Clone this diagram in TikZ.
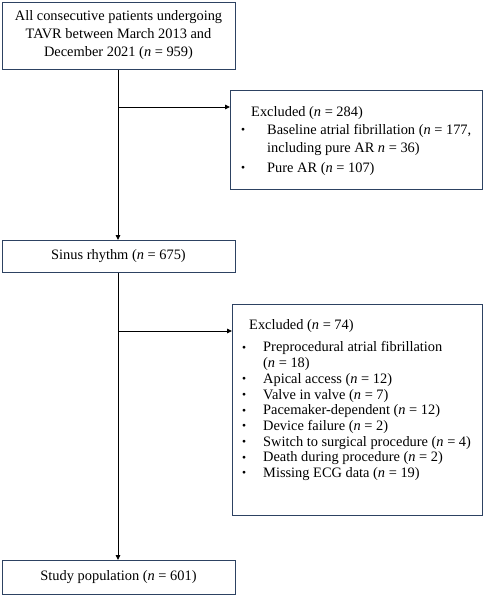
\documentclass[tikz,border=0pt]{standalone}
\usepackage{fontspec}
\setmainfont{Liberation Serif}
\usetikzlibrary{arrows.meta}
\definecolor{boxcol}{HTML}{2D4262}
\tikzset{
  box/.style={draw=boxcol, line width=1.1pt, inner sep=0pt, anchor=north west},
  boxtext/.style={inner sep=0pt, align=center, font=\fontsize{14.4}{18.3}\selectfont},
  listtext/.style={inner sep=0pt, align=left, anchor=north west},
  flow/.style={draw=black, line width=0.9pt},
  arr/.style={flow, -{Triangle[length=5pt,width=4.5pt]}}
}
\newcommand{\bul}[1]{\makebox[#1][l]{\raisebox{0.6pt}{\scalebox{0.8}{\textbullet}}}}
\begin{document}
\begin{tikzpicture}[x=1pt,y=-1pt]
\useasboundingbox (0,0) rectangle (484,596);
% boxes
\node[box, minimum width=233pt, minimum height=67pt] (a) at (2,2) {};
\node[boxtext] (at) at (118.5,35) {All consecutive patients undergoing\\TAVR between March 2013 and\\December 2021 (\emph{n} = 959)};
\node[box, minimum width=252pt, minimum height=99pt] (b) at (230,90) {};
\node[listtext, font=\fontsize{14.4}{18}\selectfont] (bt) at (241,105) {\rule{0pt}{11pt}\hspace*{10pt}Excluded (\emph{n} = 284)\\
\bul{26pt}Baseline atrial fibrillation (\emph{n} = 177,\\
\hspace*{26pt}including pure AR \emph{n} = 36)\\[2pt]
\bul{26pt}Pure AR (\emph{n} = 107)};
\node[box, minimum width=233pt, minimum height=32pt] (c) at (2,240) {};
\node[boxtext] (ct) at (118.5,256) {Sinus rhythm (\emph{n} = 675)};
\node[box, minimum width=250pt, minimum height=211pt] (d) at (232,304) {};
\node[listtext, font=\fontsize{14.4}{15.7}\selectfont] (dt) at (242,318) {\rule{0pt}{11pt}\hspace*{7pt}Excluded (\emph{n} = 74)\\[7pt]
\bul{21pt}Preprocedural atrial fibrillation\\
\hspace*{21pt}(\emph{n} = 18)\\
\bul{21pt}Apical access (\emph{n} = 12)\\
\bul{21pt}Valve in valve (\emph{n} = 7)\\
\bul{21pt}Pacemaker-dependent (\emph{n} = 12)\\
\bul{21pt}Device failure (\emph{n} = 2)\\
\bul{21pt}Switch to surgical procedure (\emph{n} = 4)\\
\bul{21pt}Death during procedure (\emph{n} = 2)\\
\bul{21pt}Missing ECG data (\emph{n} = 19)};
\node[box, minimum width=233pt, minimum height=34pt] (e) at (2,560) {};
\node[boxtext] (et) at (118.5,577) {Study population (\emph{n} = 601)};
% connectors
\coordinate (j1) at (118,107);
\coordinate (j2) at (118,331);
\draw[arr] (a.south -| j1) -- (c.north -| j1);
\draw[arr] (j1) -- (j1 -| b.west);
\draw[arr] (c.south -| j2) -- (e.north -| j2);
\draw[arr] (j2) -- (j2 -| d.west);
\end{tikzpicture}
\end{document}
